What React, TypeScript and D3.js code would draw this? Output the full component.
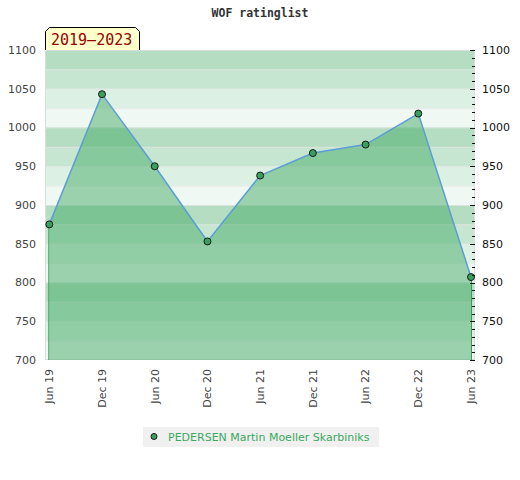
import * as d3 from 'd3';

const periods = ['Jun 19', 'Dec 19', 'Jun 20', 'Dec 20', 'Jun 21', 'Dec 21', 'Jun 22', 'Dec 22', 'Jun 23'];
const ratings = [875, 1043, 950, 853, 938, 967, 978, 1018, 807];
const yTicks = [700, 750, 800, 850, 900, 950, 1000, 1050, 1100];
const playerName = 'PEDERSEN Martin Moeller Skarbiniks';
const rangeLabel = '2019\u20132023';
const chartTitle = 'WOF ratinglist';

const plot = { left: 45, right: 475, top: 50, bottom: 360 };
const green = 'rgb(69,171,103)';
const bandOpacity = [0.08, 0.18, 0.3, 0.4]; // low to high within each 100

export default function App() {
    const x = d3.scalePoint<string>()
        .domain(periods)
        .range([49.3, 471]);

    const y = d3.scaleLinear()
        .domain([700, 1100])
        .range([plot.bottom, plot.top]);

    const pts = periods.map((p, i) => ({ p, v: ratings[i] }));

    const line = d3.line<typeof pts[0]>()
        .x(d => x(d.p) || 0)
        .y(d => y(d.v));

    const area = d3.area<typeof pts[0]>()
        .x(d => x(d.p) || 0)
        .y0(y(700))
        .y1(d => y(d.v));

    // 25-point bands, 4 shades repeating every 100
    const bands = d3.range(700, 1100, 25);
    const minorTicks = d3.range(700, 1101, 10);
    const first = pts[0];
    const last = pts[pts.length - 1];

    return (
        <svg width={520} height={480} style={{ position: 'absolute', left: 0, top: 0, display: 'block' }}>
            <rect x={0} y={0} width={520} height={480} fill="#fff" />
            <text x={260} y={17} textAnchor="middle" fontFamily="DejaVu Sans Mono" fontWeight="bold" fontSize={11.5} fill="#333">
                {chartTitle}
            </text>

            {bands.map(b => (
                <rect
                    key={b}
                    x={plot.left}
                    width={plot.right - plot.left}
                    y={y(b + 25)}
                    height={y(b) - y(b + 25)}
                    fill={green}
                    fillOpacity={bandOpacity[((b - 700) % 100) / 25]}
                />
            ))}
            {bands.slice(1).map(b => (
                <line key={'g' + b} x1={plot.left} x2={plot.right} y1={y(b) + 0.5} y2={y(b) + 0.5} stroke="#e4e4e4" strokeOpacity={0.7} />
            ))}
            <rect x={plot.left + 0.5} y={plot.top + 0.5} width={plot.right - plot.left - 1} height={plot.bottom - plot.top - 1}
                fill="none" stroke="#dcdcdc" />

            <path d={area(pts) || ''} fill={green} fillOpacity={0.5} />
            <line x1={(x(first.p) || 0) - 0.5} x2={(x(first.p) || 0) - 0.5} y1={y(first.v)} y2={y(700)} stroke="#3a9a5a" />
            <line x1={(x(last.p) || 0) + 0.5} x2={(x(last.p) || 0) + 0.5} y1={y(last.v)} y2={y(700)} stroke="#3a9a5a" />
            <path d={line(pts) || ''} fill="none" stroke="#5a9fd4" strokeWidth={1.5} />
            {pts.map(d => (
                <circle key={d.p} cx={x(d.p) || 0} cy={y(d.v)} r={3.5} fill="#3a9f5e" stroke="#1a1a1a" strokeWidth={1} />
            ))}

            {/* left axis labels */}
            {yTicks.map(t => (
                <text key={'l' + t} x={36} y={y(t)} dy="0.35em" textAnchor="end" fontFamily="DejaVu Sans" fontSize={11} fill="#444">
                    {t}
                </text>
            ))}

            {/* right axis: ticks inside the plot */}
            {minorTicks.map(t => (
                <line key={'t' + t} x1={t % 50 === 0 ? 470 : 472} x2={475} y1={Math.round(y(t)) + 0.5} y2={Math.round(y(t)) + 0.5} stroke="#111" />
            ))}
            {yTicks.map(t => (
                <text key={'r' + t} x={482} y={y(t)} dy="0.35em" fontFamily="DejaVu Sans" fontSize={11} fill="#111">
                    {t}
                </text>
            ))}

            {/* x labels */}
            {periods.map(p => (
                <text key={'x' + p} transform={`translate(${x(p) || 0},369) rotate(-90)`} dy="0.35em" textAnchor="end"
                    fontFamily="DejaVu Sans" fontSize={11} fill="#444">
                    {p}
                </text>
            ))}

            {/* range label box */}
            <path d="M45.5,50 L45.5,31.5 L49.5,27.5 L135.5,27.5 L139.5,31.5 L139.5,50" fill="#ffffcc" stroke="#000" />
            <text x={51} y={45} fontFamily="DejaVu Sans Mono" fontSize={15} fill="#990000">{rangeLabel}</text>

            {/* legend */}
            <rect x={143} y={427} width={236} height={20} fill="#f0f0f0" />
            <circle cx={154} cy={436.5} r={3} fill="#3a9f5e" stroke="#1a1a1a" />
            <text x={168} y={440.5} fontFamily="DejaVu Sans" fontSize={11} fill="#3aa85f">{playerName}</text>
        </svg>
    );
}
